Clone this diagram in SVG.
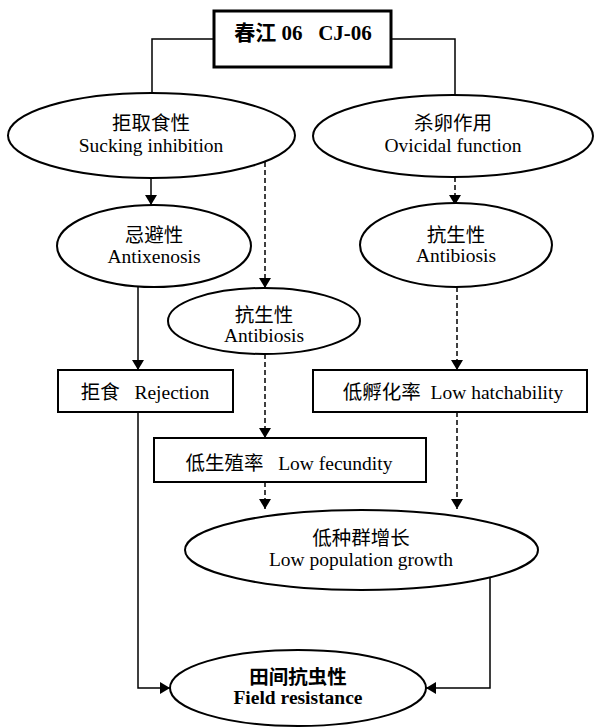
<svg xmlns="http://www.w3.org/2000/svg" width="597" height="727" viewBox="0 0 597 727">
<defs>
<marker id="ah" viewBox="0 0 10 12" refX="10" refY="6" markerWidth="10" markerHeight="12" markerUnits="userSpaceOnUse" orient="auto">
<path d="M0,0 L10,6 L0,12 Z" fill="#000"/>
</marker>
</defs>
<style>
text{font-family:"Liberation Serif","Noto Sans CJK SC",serif;font-size:19.5px;fill:#000;text-anchor:middle}
.b{font-weight:bold}
.n{fill:#fff;stroke:#000;stroke-width:2}
.l{fill:none;stroke:#000;stroke-width:1.5}
.d{fill:none;stroke:#000;stroke-width:1.5;stroke-dasharray:5,3}
</style>
<rect width="597" height="727" fill="#fff"/>
<g id="connectors">
<path class="l" d="M214,39 H152 V95"/>
<path class="l" d="M391,39 H455 V95"/>
<path class="l" d="M151,178 V205" marker-end="url(#ah)"/>
<path class="d" d="M265,162 V288" marker-end="url(#ah)"/>
<path class="d" d="M455,177 V205" marker-end="url(#ah)"/>
<path class="l" d="M138,287 V370" marker-end="url(#ah)"/>
<path class="d" d="M457,287 V370" marker-end="url(#ah)"/>
<path class="d" d="M265,354 V438" marker-end="url(#ah)"/>
<path class="d" d="M265,482 V509" marker-end="url(#ah)"/>
<path class="d" d="M457,412 V509" marker-end="url(#ah)"/>
<path class="l" d="M138,412 V688 H170" marker-end="url(#ah)"/>
<path class="l" d="M490,578 V688 H426" marker-end="url(#ah)"/>
</g>
<g id="n-top">
<rect class="n" x="214" y="11" width="177" height="56" style="stroke-width:3"/>
<text class="b" x="303" y="40" style="font-size:21px" xml:space="preserve">春江 06   CJ-06</text>
</g>
<g id="n-sucking">
<ellipse class="n" cx="151.5" cy="135.5" rx="143.5" ry="42.5"/>
<text x="151" y="130">拒取食性</text>
<text x="151" y="152">Sucking inhibition</text>
</g>
<g id="n-ovicidal">
<ellipse class="n" cx="453" cy="136" rx="140" ry="41"/>
<text x="453" y="130">杀卵作用</text>
<text x="453" y="152">Ovicidal function</text>
</g>
<g id="n-antixenosis">
<ellipse class="n" cx="154" cy="246" rx="97" ry="41"/>
<text x="154" y="242">忌避性</text>
<text x="154" y="263">Antixenosis</text>
</g>
<g id="n-antibiosis-r">
<ellipse class="n" cx="456" cy="245" rx="96" ry="42"/>
<text x="456" y="242">抗生性</text>
<text x="456" y="262">Antibiosis</text>
</g>
<g id="n-antibiosis-m">
<ellipse class="n" cx="264" cy="321" rx="96" ry="33"/>
<text x="264" y="322">抗生性</text>
<text x="264" y="342">Antibiosis</text>
</g>
<g id="n-rejection">
<rect class="n" x="58" y="370" width="175" height="42"/>
<text x="145" y="399" xml:space="preserve">拒食   Rejection</text>
</g>
<g id="n-hatch">
<rect class="n" x="313" y="370" width="274" height="42"/>
<text x="453" y="399" xml:space="preserve">低孵化率  Low hatchability</text>
</g>
<g id="n-fecundity">
<rect class="n" x="154" y="438" width="272" height="44"/>
<text x="289" y="470" xml:space="preserve">低生殖率   Low fecundity</text>
</g>
<g id="n-population">
<ellipse class="n" cx="361.5" cy="550" rx="176.5" ry="40"/>
<text x="361" y="545">低种群增长</text>
<text x="361" y="566">Low population growth</text>
</g>
<g id="n-field">
<ellipse class="n" cx="298" cy="688" rx="128" ry="38"/>
<text class="b" x="298" y="684">田间抗虫性</text>
<text class="b" x="298" y="704">Field resistance</text>
</g>
</svg>
